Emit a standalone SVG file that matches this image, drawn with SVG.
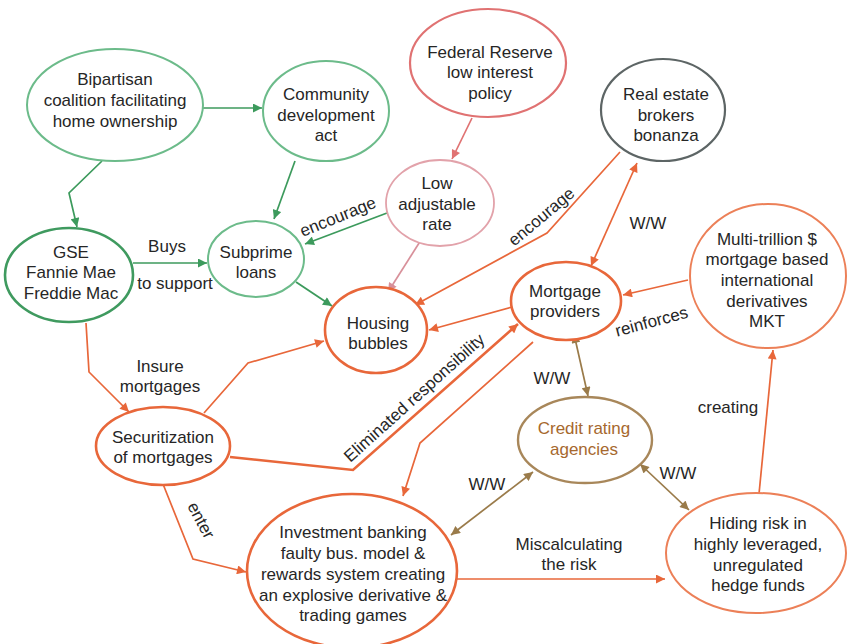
<svg xmlns="http://www.w3.org/2000/svg" width="847" height="644" viewBox="0 0 847 644">
<style>
text{font-family:"Liberation Sans",Arial,sans-serif;font-size:17px;fill:#262626;text-anchor:middle}
.n{fill:#fff}
.lg{stroke:#6cbb8a;stroke-width:2}
.dg{stroke:#3f9a5f;stroke-width:2.6}
.or{stroke:#e8673a;stroke-width:2.6}
.lo{stroke:#ec8058;stroke-width:2}
.rd{stroke:#e07272;stroke-width:2.2}
.pk{stroke:#e2a2aa;stroke-width:1.8}
.gy{stroke:#5d6565;stroke-width:2.2}
.br{stroke:#a8875a;stroke-width:2.4}
.c{fill:none;stroke-width:1.7}
.cg{stroke:#3c9a5c;marker-end:url(#mg)}
.co{stroke:#e8673a;marker-end:url(#mo)}
.cp{stroke:#d8909a;marker-end:url(#mp)}
.cr{stroke:#e07272;marker-end:url(#mr)}
.cb{stroke:#9a7b4a;marker-end:url(#mb);marker-start:url(#mb)}
</style>
<defs>
<marker id="mg" viewBox="0 0 10 10" refX="10" refY="5" markerWidth="10" markerHeight="9" markerUnits="userSpaceOnUse" orient="auto-start-reverse"><path d="M0,0L10,5L0,10z" fill="#3c9a5c"/></marker>
<marker id="mo" viewBox="0 0 10 10" refX="10" refY="5" markerWidth="10" markerHeight="9" markerUnits="userSpaceOnUse" orient="auto-start-reverse"><path d="M0,0L10,5L0,10z" fill="#e8673a"/></marker>
<marker id="mp" viewBox="0 0 10 10" refX="10" refY="5" markerWidth="10" markerHeight="9" markerUnits="userSpaceOnUse" orient="auto-start-reverse"><path d="M0,0L10,5L0,10z" fill="#d8909a"/></marker>
<marker id="mr" viewBox="0 0 10 10" refX="10" refY="5" markerWidth="10" markerHeight="9" markerUnits="userSpaceOnUse" orient="auto-start-reverse"><path d="M0,0L10,5L0,10z" fill="#e07272"/></marker>
<marker id="mb" viewBox="0 0 10 10" refX="10" refY="5" markerWidth="10" markerHeight="9" markerUnits="userSpaceOnUse" orient="auto-start-reverse"><path d="M0,0L10,5L0,10z" fill="#9a7b4a"/></marker>
</defs>
<rect width="847" height="644" fill="#fff"/>
<g id="connectors">
<path class="c cg" d="M203,108L262,108"/>
<path class="c cg" d="M102,161L69,193L77,227"/>
<path class="c cg" d="M295,161L274,219"/>
<path class="c cg" d="M133,263L207,263"/>
<path class="c cg" d="M387,213L305,244"/>
<path class="c cg" d="M296,282L332,306"/>
<path class="c cr" d="M472,118L452,159"/>
<path class="c cp" d="M421,240L388,292"/>
<path class="c co" d="M620,152L547,233L415,305"/>
<path class="c co" d="M591,266L637,163" style="marker-start:url(#mo)"/>
<path class="c co" d="M512,307L429,330"/>
<path class="c co" d="M688,280L623,295"/>
<path class="c co" d="M204,413L248,363L324,341"/>
<path class="c co" d="M230,457L353,470L518,324" style="stroke-width:2.6"/>
<path class="c co" d="M533,342L420,443L403,496"/>
<path class="c cb" d="M574,334L588,396"/>
<path class="c cb" d="M533,472L451,535"/>
<path class="c cb" d="M640,464L689,510"/>
<path class="c co" d="M457,579L665,579"/>
<path class="c co" d="M759,494L773,350"/>
<path class="c co" d="M86,323L89,372L129,412"/>
<path class="c co" d="M163,484L193,559L246,572"/>
</g>
<g id="labels">
<text x="167" y="252">Buys</text>
<text x="175" y="289">to support</text>
<text transform="translate(340,222) rotate(-22)" x="0" y="0">encourage</text>
<text transform="translate(545,221) rotate(-40)" x="0" y="0">encourage</text>
<text x="648" y="229">W/W</text>
<text transform="translate(653,327) rotate(-15)" x="0" y="0">reinforces</text>
<text transform="translate(418,402) rotate(-42)" x="0" y="0">Eliminated responsibility</text>
<text x="552" y="384">W/W</text>
<text x="487" y="490">W/W</text>
<text x="678" y="479">W/W</text>
<text x="569" y="550">Miscalculating</text>
<text x="569" y="570">the risk</text>
<text x="728" y="413">creating</text>
<text x="160" y="372">Insure</text>
<text x="160" y="392">mortgages</text>
<text transform="translate(196,523) rotate(62)" x="0" y="0">enter</text>
</g>
<g id="bipartisan"><ellipse class="n lg" cx="115" cy="105" rx="88" ry="56"/><text x="115" y="85">Bipartisan</text><text x="115" y="106">coalition facilitating</text><text x="115" y="127">home ownership</text></g>
<g id="community"><ellipse class="n lg" cx="326" cy="111" rx="63" ry="50"/><text x="326" y="100">Community</text><text x="326" y="121">development</text><text x="326" y="141">act</text></g>
<g id="federal"><ellipse class="n rd" cx="488" cy="63" rx="78" ry="54"/><text x="490" y="58">Federal Reserve</text><text x="490" y="78">low interest</text><text x="490" y="99">policy</text></g>
<g id="realestate"><ellipse class="n gy" cx="663" cy="110" rx="62" ry="51"/><text x="666" y="100">Real estate</text><text x="666" y="121">brokers</text><text x="666" y="141">bonanza</text></g>
<g id="lowrate"><ellipse class="n pk" cx="440" cy="203" rx="54" ry="43"/><text x="437" y="189">Low</text><text x="437" y="210">adjustable</text><text x="437" y="230">rate</text></g>
<g id="gse"><ellipse class="n dg" cx="69" cy="275" rx="64" ry="47"/><text x="71" y="258">GSE</text><text x="71" y="278">Fannie Mae</text><text x="71" y="299">Freddie Mac</text></g>
<g id="subprime"><ellipse class="n lg" cx="256" cy="259" rx="48" ry="38"/><text x="256" y="258">Subprime</text><text x="256" y="278">loans</text></g>
<g id="housing"><ellipse class="n or" cx="376" cy="330" rx="51" ry="43"/><text x="378" y="329">Housing</text><text x="378" y="349">bubbles</text></g>
<g id="mortgage"><ellipse class="n or" cx="566" cy="301" rx="55" ry="39"/><text x="565" y="297">Mortgage</text><text x="565" y="317">providers</text></g>
<g id="multitrillion"><ellipse class="n lo" cx="768" cy="276" rx="78" ry="72"/><text x="767" y="245">Multi-trillion $</text><text x="767" y="265">mortgage based</text><text x="767" y="286">international</text><text x="767" y="307">derivatives</text><text x="767" y="327">MKT</text></g>
<g id="credit"><ellipse class="n br" cx="585" cy="440" rx="67" ry="43"/><text x="584" y="434" style="fill:#a6682e">Credit rating</text><text x="584" y="455" style="fill:#a6682e">agencies</text></g>
<g id="hiding"><ellipse class="n lo" cx="756" cy="553" rx="90" ry="60"/><text x="758" y="529">Hiding risk in</text><text x="758" y="550">highly leveraged,</text><text x="758" y="571">unregulated</text><text x="758" y="591">hedge funds</text></g>
<g id="securitization"><ellipse class="n or" cx="163" cy="446" rx="67" ry="39"/><text x="163" y="443">Securitization</text><text x="163" y="463">of mortgages</text></g>
<g id="investment"><ellipse class="n or" cx="352" cy="571" rx="105" ry="77"/><text x="353" y="538">Investment banking</text><text x="353" y="559">faulty bus. model &amp;</text><text x="353" y="580">rewards system creating</text><text x="353" y="601">an explosive derivative &amp;</text><text x="353" y="621">trading games</text></g>
</svg>
